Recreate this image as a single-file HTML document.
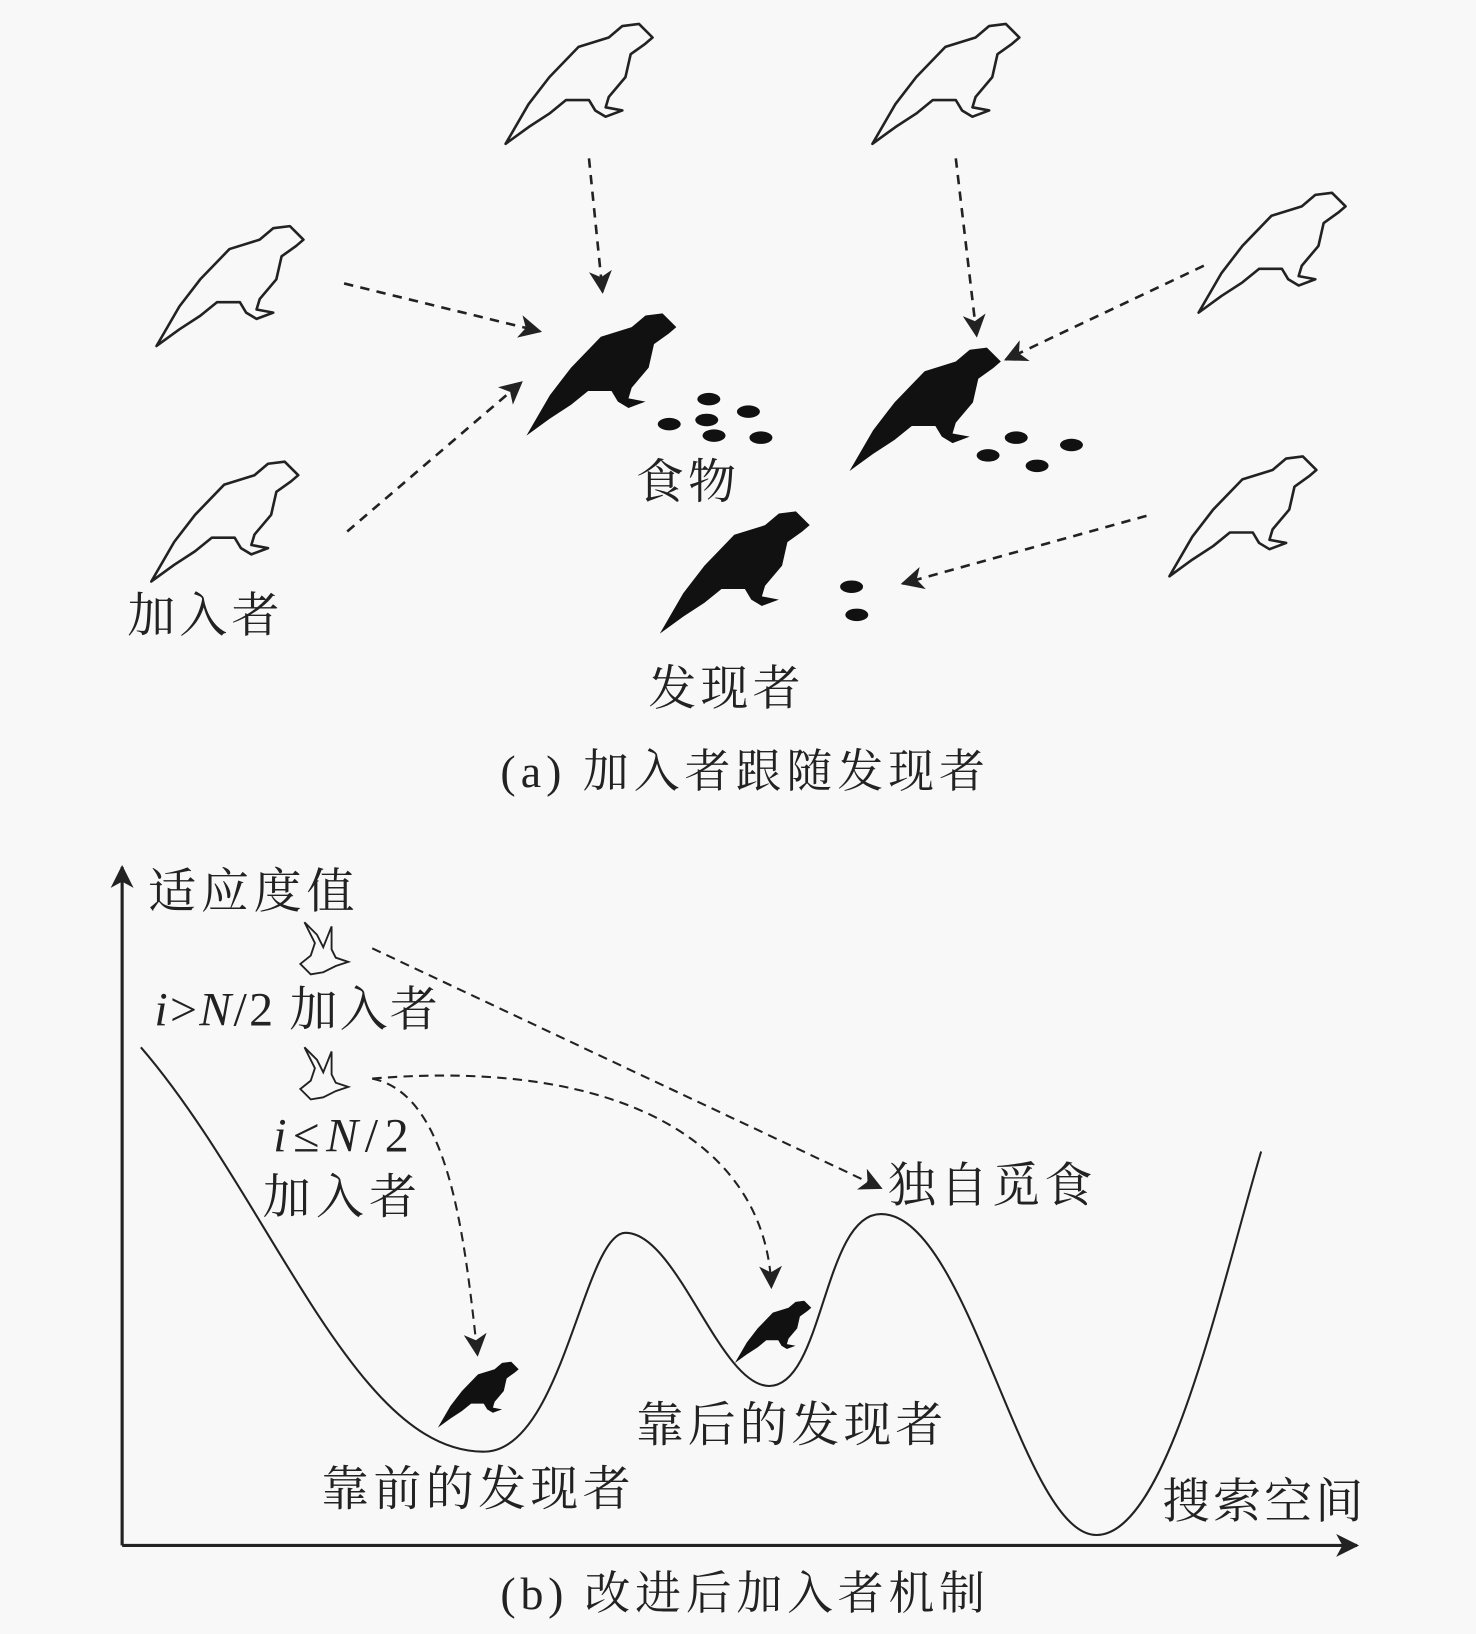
<!DOCTYPE html>
<html><head><meta charset="utf-8"><style>
html,body{margin:0;padding:0;background:#f8f8f8}
svg{display:block}
text{font-family:"Liberation Serif","Noto Serif CJK SC","Noto Sans CJK SC",serif;fill:#222}
</style></head><body>
<svg width="1476" height="1634" viewBox="0 0 1416 1568" xmlns="http://www.w3.org/2000/svg">
<defs>
<path id="bird" d="M0,0 L22,-38 L42,-64 L70,-93 L99,-102 L112,-113 L128,-115 L141,-102 L134,-96 L120,-86 L115,-64 L99,-45 L96,-35 L112,-32 L96,-26 L86,-32 L80,-42 L58,-42 L42,-29 L22,-16 Z"/>
<path id="fly" d="M0,40 L10,32 L14,20 L4,0 L16,12 L22,24 L30,4 L30,26 L34,34 L46,38 L34,42 L22,48 L10,50 Z"/>
<marker id="ah2" markerWidth="22" markerHeight="22" refX="20" refY="11" orient="auto" markerUnits="userSpaceOnUse" viewBox="0 0 22 22">
<path d="M0,0 L22,11 L0,22 L6,11 Z" fill="#222"/></marker>
</defs>
<g fill="none" stroke="#222" stroke-width="2.5" stroke-linejoin="round">
<use href="#bird" x="485" y="138"/>
<use href="#bird" x="837" y="138"/>
<use href="#bird" x="150" y="332"/>
<use href="#bird" x="1150" y="300"/>
<use href="#bird" x="145" y="558"/>
<use href="#bird" x="1122" y="553"/>
</g>
<g fill="#111">
<use href="#bird" transform="translate(505,418) scale(1.02)"/>
<use href="#bird" transform="translate(815,452) scale(1.03)"/>
<use href="#bird" transform="translate(633,608) scale(1.02)"/>
<use href="#bird" transform="translate(420,1370) scale(0.55)"/>
<use href="#bird" transform="translate(705,1308) scale(0.52)"/>
<ellipse cx="680" cy="383" rx="11" ry="6"/><ellipse cx="642" cy="407" rx="11" ry="6"/>
<ellipse cx="678" cy="403" rx="11" ry="6"/><ellipse cx="718" cy="395" rx="11" ry="6"/>
<ellipse cx="685" cy="418" rx="11" ry="6"/><ellipse cx="730" cy="420" rx="11" ry="6"/>
<ellipse cx="975" cy="420" rx="11" ry="6"/><ellipse cx="948" cy="437" rx="11" ry="6"/>
<ellipse cx="1028" cy="427" rx="11" ry="6"/><ellipse cx="995" cy="447" rx="11" ry="6"/>
<ellipse cx="817" cy="563" rx="11" ry="6"/><ellipse cx="822" cy="590" rx="11" ry="6"/>
</g>
<g fill="none" stroke="#222" stroke-width="1.8">
<use href="#fly" x="288" y="885"/>
<use href="#fly" x="288" y="1005"/>
</g>
<g stroke="#222" stroke-width="2.5" stroke-dasharray="9,7" fill="none" marker-end="url(#ah2)">
<path d="M565,152 L578,280"/>
<path d="M330,272 L518,318"/>
<path d="M333,510 L500,367"/>
<path d="M917,152 L937,322"/>
<path d="M1155,255 L965,345"/>
<path d="M1100,495 L866,560"/>
</g>
<g stroke="#222" stroke-width="2" stroke-dasharray="9,6" fill="none" marker-end="url(#ah2)">
<path d="M357,910 L845,1140"/>
<path d="M357,1035 C430,1050 445,1180 458,1300"/>
<path d="M357,1035 C600,1015 735,1100 740,1235"/>
</g>
<g stroke="#222" stroke-width="3" fill="none" marker-end="url(#ah2)">
<path d="M117,1483 L117,832"/>
<path d="M117,1483 L1302,1483"/>
</g>
<path d="M135,1005 C260,1150 340,1395 465,1393 C540,1392 560,1183 600,1183 C650,1183 690,1330 738,1330 C790,1330 790,1165 845,1165 C930,1165 980,1473 1052,1473 C1120,1473 1170,1240 1210,1105" fill="none" stroke="#222" stroke-width="2"/>
<g font-size="46" lengthAdjust="spacing">
<text x="610" y="478" textLength="96">食物</text>
<text x="122" y="606" textLength="146">加入者</text>
<text x="622" y="676" textLength="146">发现者</text>
<text x="480" y="755" font-size="44" textLength="465">(a) 加入者跟随发现者</text>
<text x="142" y="871" textLength="198">适应度值</text>
<text x="148" y="984" textLength="272"><tspan font-style="italic">i</tspan>&gt;<tspan font-style="italic">N</tspan>/2 加入者</text>
<text x="262" y="1105" textLength="130"><tspan font-style="italic">i</tspan>≤<tspan font-style="italic">N</tspan>/2</text>
<text x="252" y="1164" textLength="148">加入者</text>
<text x="852" y="1153" textLength="196">独自觅食</text>
<text x="610" y="1383" textLength="295">靠后的发现者</text>
<text x="308" y="1444" textLength="297">靠前的发现者</text>
<text x="1115" y="1456" textLength="193">搜索空间</text>
<text x="480" y="1544" font-size="44" textLength="465">(b) 改进后加入者机制</text>
</g>
</svg>
</body></html>
